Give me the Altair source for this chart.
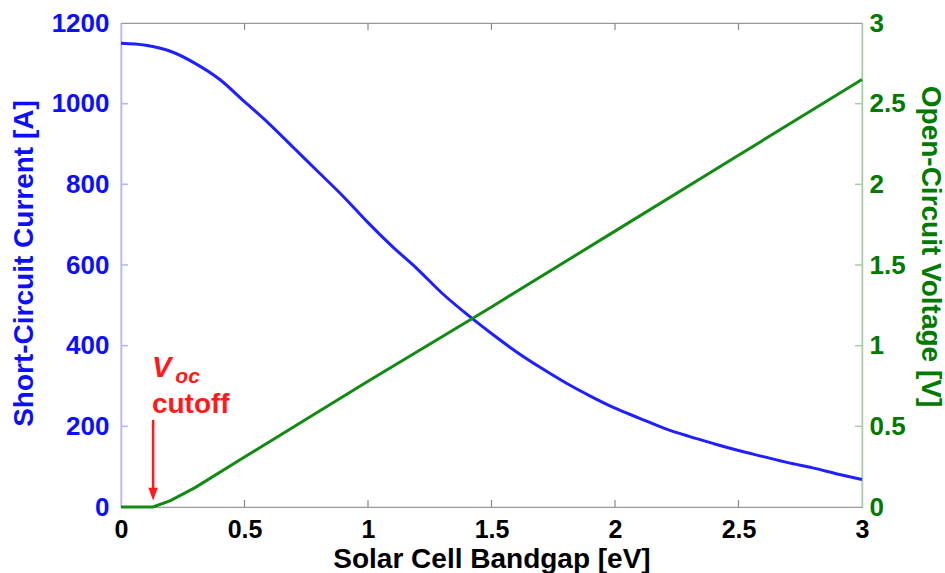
import altair as alt
import pandas as pd

# ---- data ----
bandgap = [0.0, 0.1, 0.2, 0.3, 0.4, 0.5, 0.6, 0.7, 0.8, 0.9, 1.0, 1.1, 1.2, 1.3, 1.4, 1.5,
           1.6, 1.7, 1.8, 1.9, 2.0, 2.1, 2.2, 2.3, 2.4, 2.5, 2.6, 2.7, 2.8, 2.9, 3.0]
isc = [1150, 1145, 1130, 1100, 1060, 1005, 950, 890, 830, 770, 705, 645, 590, 530, 478, 430,
       385, 345, 308, 275, 245, 220, 195, 175, 157, 140, 125, 110, 97, 82, 68]

voc_x = [0.0, 0.13, 0.2, 0.3, 0.5, 1.0, 1.5, 2.0, 2.5, 3.0]
voc = [0.0, 0.0, 0.04, 0.12, 0.31, 0.78, 1.24, 1.71, 2.18, 2.65]

left_tick_vals = [200, 400, 600, 800, 1000]
right_tick_vals = [0.5, 1.0, 1.5, 2.0, 2.5]
x_tick_vals = [0.5, 1.0, 1.5, 2.0, 2.5]
x_axis_vals = [0, 0.5, 1, 1.5, 2, 2.5, 3]
left_axis_vals = [0, 200, 400, 600, 800, 1000, 1200]
right_axis_vals = [0, 0.5, 1, 1.5, 2, 2.5, 3]

cutoff_x = 0.13
annot = pd.DataFrame({"x": [0.125], "y": [322], "t": ["V"]})
annot_sub = pd.DataFrame({"x": [0.22], "y": [307], "t": ["oc"]})
annot_cut = pd.DataFrame({"x": [0.125], "y": [233], "t": ["cutoff"]})
arrow = pd.DataFrame({"x": [cutoff_x], "y": [216], "y2": [40]})
arrow_head = pd.DataFrame({"x": [cutoff_x], "y": [32]})

FONT = "Liberation Sans"
BLUE = "#0d0dff"
GREEN = "#007a00"
RED = "#ff1a1a"

df_i = pd.DataFrame({"x": bandgap, "y": isc})
df_v = pd.DataFrame({"x": voc_x, "y": voc})
df_lt = pd.DataFrame({"y": left_tick_vals})
df_rt = pd.DataFrame({"y": right_tick_vals})
df_xt = pd.DataFrame({"x": x_tick_vals})

xscale = alt.Scale(domain=[0, 3], nice=False, zero=False)
yl_scale = alt.Scale(domain=[0, 1200], nice=False)
yr_scale = alt.Scale(domain=[0, 3], nice=False)

x_axis = alt.Axis(values=x_axis_vals, format="~g", title="Solar Cell Bandgap [eV]",
                  grid=False, ticks=False, tickSize=0, domain=False,
                  labelFont=FONT, labelFontSize=25, labelFontWeight="bold", labelColor="black",
                  labelBaseline="alphabetic", labelPadding=30, labelFlush=False,
                  titleFont=FONT, titleFontSize=28, titleFontWeight="bold", titleColor="black",
                  titleBaseline="alphabetic", titleY=60)

yl_axis = alt.Axis(
    orient="left", values=left_axis_vals, format="d", title="Short-Circuit Current [A]",
    grid=False, ticks=False, tickSize=0, domainColor="#b3b3ff", domainWidth=1.5,
    labelFont=FONT, labelFontSize=26, labelFontWeight="bold", labelColor=BLUE,
    labelPadding=12, labelFlush=False, labelBaseline="middle",
    titleFont=FONT, titleFontSize=28, titleFontWeight="bold", titleColor=BLUE,
    titleAngle=-90, titleBaseline="middle", titleAlign="center", titleX=-97, titleY=240)

yr_axis = alt.Axis(
    orient="right", values=right_axis_vals, format="~g", title="Open-Circuit Voltage [V]",
    grid=False, ticks=False, tickSize=0, domainColor="#a3d1a3", domainWidth=1.5,
    labelFont=FONT, labelFontSize=26, labelFontWeight="bold", labelColor=GREEN,
    labelPadding=7, labelFlush=False, labelBaseline="middle",
    titleFont=FONT, titleFontSize=28, titleFontWeight="bold", titleColor=GREEN,
    titleAngle=90, titleBaseline="middle", titleAlign="center", titleX=67, titleY=223)

X = lambda: alt.X("x:Q", scale=xscale, axis=x_axis)
YL = lambda f="y:Q": alt.Y(f, scale=yl_scale, axis=yl_axis)
YR = lambda f="y:Q": alt.Y(f, scale=yr_scale, axis=yr_axis)

blue_line = alt.Chart(df_i).mark_line(color="#1f1fff", strokeWidth=3,
                                      interpolate="monotone").encode(x=X(), y=YL())

left_ticks = alt.Chart(df_lt).mark_rule(color="#b3b3ff", strokeWidth=1.5).encode(
    y=YL(), x=alt.value(0), x2=alt.value(7))

bottom_ticks = alt.Chart(df_xt).mark_rule(color="#888888", strokeWidth=1.2).encode(
    x=X(), y=alt.value(484), y2=alt.value(477))
top_ticks = alt.Chart(df_xt).mark_rule(color="#888888", strokeWidth=1.2).encode(
    x=X(), y=alt.value(0), y2=alt.value(7))

t_v = alt.Chart(annot).mark_text(font=FONT, fontSize=29, fontWeight="bold", fontStyle="italic",
                                 color=RED, align="left", baseline="alphabetic").encode(
    x=X(), y=YL(), text="t:N")
t_sub = alt.Chart(annot_sub).mark_text(font=FONT, fontSize=21, fontWeight="bold", fontStyle="italic",
                                       color=RED, align="left", baseline="alphabetic").encode(
    x=X(), y=YL(), text="t:N")
t_cut = alt.Chart(annot_cut).mark_text(font=FONT, fontSize=28, fontWeight="bold",
                                       color=RED, align="left", baseline="alphabetic").encode(
    x=X(), y=YL(), text="t:N")

arrow_line = alt.Chart(arrow).mark_rule(color=RED, strokeWidth=2.5).encode(
    x=X(), y=YL(), y2="y2:Q")
arrow_tip = alt.Chart(arrow_head).mark_point(
    shape="M-0.75,-1 L0.75,-1 L0,1 Z", filled=True, color=RED, opacity=1, size=160, strokeWidth=0
).encode(x=X(), y=YL())

green_line = alt.Chart(df_v).mark_line(color="#138a13", strokeWidth=3).encode(x=X(), y=YR())
right_ticks = alt.Chart(df_rt).mark_rule(color="#a3d1a3", strokeWidth=1.5).encode(
    y=YR(), x=alt.value(741), x2=alt.value(734))

left_group = alt.layer(blue_line, left_ticks, bottom_ticks, top_ticks,
                       arrow_line, arrow_tip, t_v, t_sub, t_cut)
right_group = alt.layer(green_line, right_ticks)

chart = alt.layer(left_group, right_group).resolve_scale(y="independent").properties(
    width=741, height=484,
    autosize=alt.AutoSizeParams(type="none"),
    padding={"left": 121, "top": 23, "right": 83, "bottom": 66},
    background="white",
).configure_view(stroke="#999999", strokeWidth=1.2)

chart.save("out.html", embed_options={"renderer": "svg", "actions": False})
